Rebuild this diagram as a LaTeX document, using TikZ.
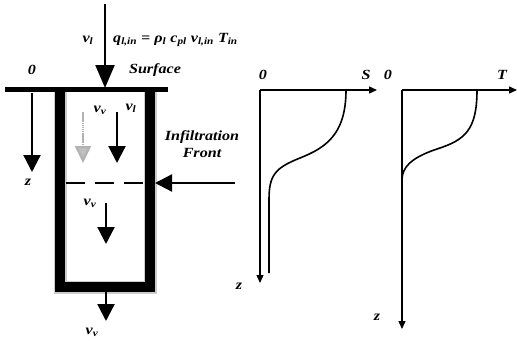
\documentclass[tikz,border=0pt]{standalone}
\usepackage{fontspec}
\setmainfont{Liberation Serif}
\usetikzlibrary{arrows.meta}
\newcommand\mysub[1]{\textsubscript{#1}}
\tikzset{
  lbl/.style={font=\fontsize{14}{16}\selectfont\bfseries\itshape, inner sep=0pt},
  bigarrow/.style={line width=2.2pt, -{Triangle[length=17pt,width=17pt]}},
  axis/.style={line width=1.3pt, -{Triangle[length=8pt,width=7pt]}},
  curve/.style={line width=1.6pt},
}
\newcommand\wide[1]{\scalebox{1.15}[1]{#1}}
\begin{document}
\begin{tikzpicture}[x=1pt,y=-1pt]
\useasboundingbox (0,0) rectangle (517,341);
% column walls
\coordinate (wTL) at (60,92);
\coordinate (wBL) at (60,287);
\coordinate (wBR) at (150,287);
\coordinate (wTR) at (150,92);
\draw[gray!40, line width=13pt, line join=miter] (wTL) -- (wBL) -- (wBR) -- (wTR);
\draw[black, line width=10pt, line join=miter] (wTL) -- (wBL) -- (wBR) -- (wTR);
% surface line
\coordinate (sL) at (5,89.5);
\coordinate (sR) at (168,89.5);
\draw[line width=5pt] (sL) -- (sR);
% top inflow arrow
\coordinate (tin0) at (105,4);
\coordinate (tin1) at (105,88);
\draw[line width=2.2pt, -{Triangle[length=23pt,width=19pt]}] (tin0) -- (tin1);
\node[lbl] (vl0) at (88,40) {\wide{v\mysub{l}}};
\node[lbl, anchor=west] (qeq) at (113,40) {\wide{q\mysub{l,in} = ρ\mysub{l} c\mysub{pl} v\mysub{l,in} T\mysub{in}}};
\node[lbl] (zero0) at (32,70) {\wide{0}};
\node[lbl] (surf) at (155,70) {\wide{Surface}};
% left z axis
\coordinate (za0) at (32,93);
\coordinate (za1) at (32,172);
\draw[bigarrow] (za0) -- (za1);
\node[lbl] (zl) at (28,182) {\wide{z}};
% inside arrows
\coordinate (ga0) at (83,112);
\coordinate (ga1) at (83,163);
\draw[gray!60, line width=2.2pt, dash pattern=on 1.5pt off 0.6pt, -{Triangle[length=17pt,width=16pt,fill=gray!50]}] (ga0) -- (ga1);
\node[lbl] (vv1) at (100,110) {\wide{v\mysub{v}}};
\coordinate (ba0) at (117,112);
\coordinate (ba1) at (117,163);
\draw[bigarrow] (ba0) -- (ba1);
\node[lbl] (vl1) at (131,108) {\wide{v\mysub{l}}};
% infiltration front dashed line
\coordinate (fd0) at (66,183);
\coordinate (fd1) at (145,183);
\draw[line width=2pt, dash pattern=on 19pt off 10pt] (fd0) -- (fd1);
\coordinate (fa0) at (235,183);
\coordinate (fa1) at (155,183);
\draw[bigarrow] (fa0) -- (fa1);
\node[lbl, align=center] (ifront) at (202,144) {\wide{Infiltration}\\[1pt]\wide{Front}};
% lower inside arrow
\node[lbl] (vv2) at (90,203) {\wide{v\mysub{v}}};
\coordinate (la0) at (106,203);
\coordinate (la1) at (106,244);
\draw[bigarrow] (la0) -- (la1);
% bottom outflow
\coordinate (oa0) at (106,292);
\coordinate (oa1) at (106,321);
\draw[bigarrow] (oa0) -- (oa1);
\node[lbl] (vv3) at (92,332) {\wide{v\mysub{v}}};
% S graph
\coordinate (so) at (260,90);
\coordinate (sx) at (377,90);
\coordinate (sz) at (260,283);
\draw[axis] (so) -- (sx);
\draw[axis] (so) -- (sz);
\node[lbl] (s0) at (263,75) {\wide{0}};
\node[lbl] (sS) at (366,75) {\wide{S}};
\node[lbl] (sZ) at (239,286) {\wide{z}};
\draw[curve] (346,90) .. controls (346,135) and (325,148) .. (300,158)
  .. controls (275,168) and (269,175) .. (269,200) -- (269,273);
% T graph
\coordinate (to) at (402,90);
\coordinate (tx) at (517,90);
\coordinate (tz) at (402,329);
\draw[axis] (to) -- (tx);
\draw[axis] (to) -- (tz);
\node[lbl] (t0) at (388,75) {\wide{0}};
\node[lbl] (tT) at (502,75) {\wide{T}};
\node[lbl] (tZ) at (377,317) {\wide{z}};
\draw[curve] (477,90) .. controls (477,130) and (465,140) .. (437,149)
  .. controls (410,158) and (402,168) .. (402,180);
\end{tikzpicture}
\end{document}
